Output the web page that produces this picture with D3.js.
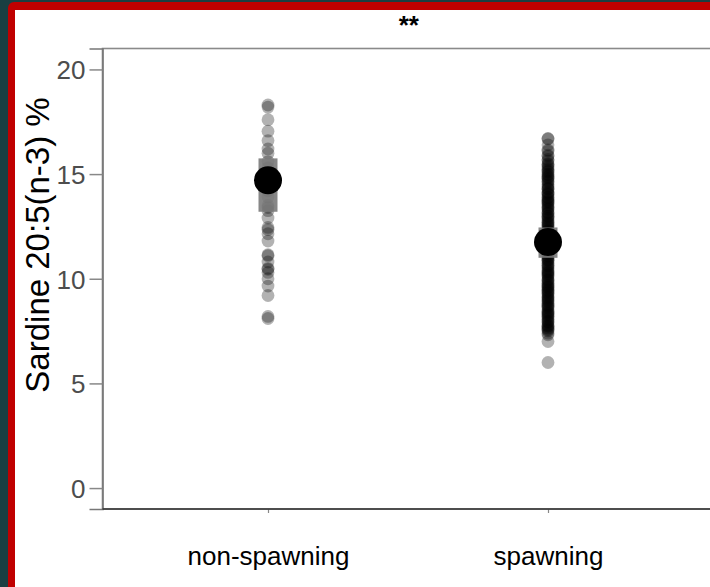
<!DOCTYPE html>
<html><head><meta charset="utf-8">
<script src="https://cdn.jsdelivr.net/npm/d3@7/dist/d3.min.js"></script>
<style>
html,body{margin:0;padding:0;background:#1a3f42;overflow:hidden}
svg{display:block}
text{font-family:"Liberation Sans",Arial,Helvetica,sans-serif}
</style></head>
<body>
<svg id="c" width="710" height="587"></svg>
<script>
const categories = ["non-spawning", "spawning"];
const nonSpawning = [18.3, 18.2, 17.6, 17.05, 16.6, 16.2, 16.0, 15.6, 15.3, 14.9, 14.6, 14.2, 13.9, 13.5, 13.4, 13.25, 12.9, 12.45, 12.35, 12.15, 11.8, 11.15, 11.1, 10.8, 10.5, 10.45, 10.3, 10.0, 9.65, 9.2, 8.2, 8.1];
const spawning = [16.7, 16.68, 16.4, 16.15, 16.1, 15.9, 15.85, 15.7, 15.62, 15.5, 15.38, 15.3, 15.22, 15.1, 15.0, 14.97, 14.85, 14.8, 14.66, 14.6, 14.5, 14.42, 14.3, 14.28, 14.15, 14.1, 14.02, 13.9, 13.88, 13.75, 13.7, 13.6, 13.52, 13.45, 13.33, 13.3, 13.2, 13.12, 13.0, 12.98, 12.9, 12.78, 12.7, 12.66, 12.55, 12.5, 12.42, 12.3, 12.28, 12.2, 12.1, 12.05, 11.95, 11.9, 11.8, 11.72, 11.65, 11.55, 11.5, 11.4, 11.32, 11.25, 11.2, 11.08, 11.0, 10.95, 10.88, 10.8, 10.7, 10.62, 10.55, 10.48, 10.4, 10.3, 10.25, 10.15, 10.1, 10.0, 9.92, 9.85, 9.78, 9.7, 9.6, 9.58, 9.45, 9.4, 9.3, 9.22, 9.15, 9.05, 9.0, 8.9, 8.82, 8.75, 8.7, 8.6, 8.52, 8.45, 8.35, 8.3, 8.2, 8.12, 8.05, 7.95, 7.9, 7.8, 7.72, 7.65, 7.55, 7.5, 7.4, 7.32, 7.0, 6.0,
  15.45, 15.15, 14.9, 14.72, 14.35, 14.05, 13.8, 13.65, 13.4, 13.15, 12.85, 12.6, 12.35, 12.15, 11.85, 11.6, 11.35, 11.12, 10.9, 10.65, 10.35, 10.2, 9.95, 9.65, 9.5, 9.35, 9.1, 8.95, 8.65, 8.4, 8.25, 7.98, 7.75, 7.6];
const groupMeans = [14.7, 11.75];
const groupLower = [13.2, 11.0];
const groupUpper = [15.75, 12.45];
const yTicks = [0, 5, 10, 15, 20];
const yLabel = "Sardine 20:5(n-3) %";
const titleText = "**";

(function () {
const svg = d3.select("#c");
// frame
svg.append("rect").attr("x", 8).attr("y", 2).attr("width", 760).attr("height", 640).attr("rx", 6).attr("fill", "#c00000");
svg.append("rect").attr("x", 15).attr("y", 10).attr("width", 760).attr("height", 640).attr("fill", "#ffffff");

const pL = 102.5, pR = 717, pT = 48.5, pB = 509;
const x = d3.scalePoint().domain(categories).range([100, 716]).padding(0.6);
const y = d3.scaleLinear().domain([-1, 21]).range([pB, pT]);

// panel border
svg.append("rect").attr("x", pL).attr("y", pT).attr("width", pR - pL).attr("height", pB - pT)
  .attr("fill", "none").attr("stroke", "#8a8a8a").attr("stroke-width", 1.6);

// points
const pts = [];
nonSpawning.forEach(v => pts.push({c: categories[0], v}));
spawning.forEach(v => pts.push({c: categories[1], v}));
svg.append("g").selectAll("circle").data(pts).join("circle")
  .attr("cx", d => x(d.c)).attr("cy", d => y(d.v)).attr("r", 6.4)
  .attr("fill", "#000").attr("fill-opacity", 0.3);

// error range rects
svg.append("g").selectAll("rect").data(categories).join("rect")
  .attr("x", d => x(d) - 9.5).attr("width", 19)
  .attr("y", (d, i) => y(groupUpper[i])).attr("height", (d, i) => y(groupLower[i]) - y(groupUpper[i]))
  .attr("fill", "#7a7a7a").attr("fill-opacity", 0.9);

// mean circles
svg.append("g").selectAll("circle").data(categories).join("circle")
  .attr("cx", d => x(d)).attr("cy", (d, i) => y(groupMeans[i])).attr("r", 14)
  .attr("fill", "#000");

// y axis
const ya = svg.append("g").attr("transform", `translate(${pL},0)`)
  .call(d3.axisLeft(y).tickValues(yTicks).tickSize(13).tickPadding(4));
ya.select(".domain").attr("stroke", "#777").attr("stroke-width", 1.6);
ya.selectAll(".tick line").attr("stroke", "#888").attr("stroke-width", 1.5);
ya.selectAll(".tick text").attr("fill", "#4d4d4d").style("font-size", "26px").attr("dy", "0.36em");

// x axis
const xa = svg.append("g").attr("transform", `translate(0,${pB})`)
  .call(d3.axisBottom(x).tickSize(4).tickPadding(34));
xa.select(".domain").remove();
svg.append("line").attr("x1", pL).attr("x2", pR).attr("y1", pB).attr("y2", pB)
  .attr("stroke", "#333").attr("stroke-width", 1.6);
xa.selectAll(".tick line").attr("stroke", "#888").attr("stroke-width", 1.2);
xa.selectAll(".tick text").attr("fill", "#000").style("font-size", "26px");

// y label
svg.append("text").attr("transform", `translate(49,245) rotate(-90)`)
  .attr("text-anchor", "middle").style("font-size", "33px").attr("fill", "#000").text(yLabel);

// title
svg.append("text").attr("x", (pL + pR) / 2 - 1).attr("y", 34).attr("text-anchor", "middle")
  .style("font-size", "26px").style("font-weight", "bold").attr("fill", "#000").text(titleText);
})();
</script>
</body></html>
